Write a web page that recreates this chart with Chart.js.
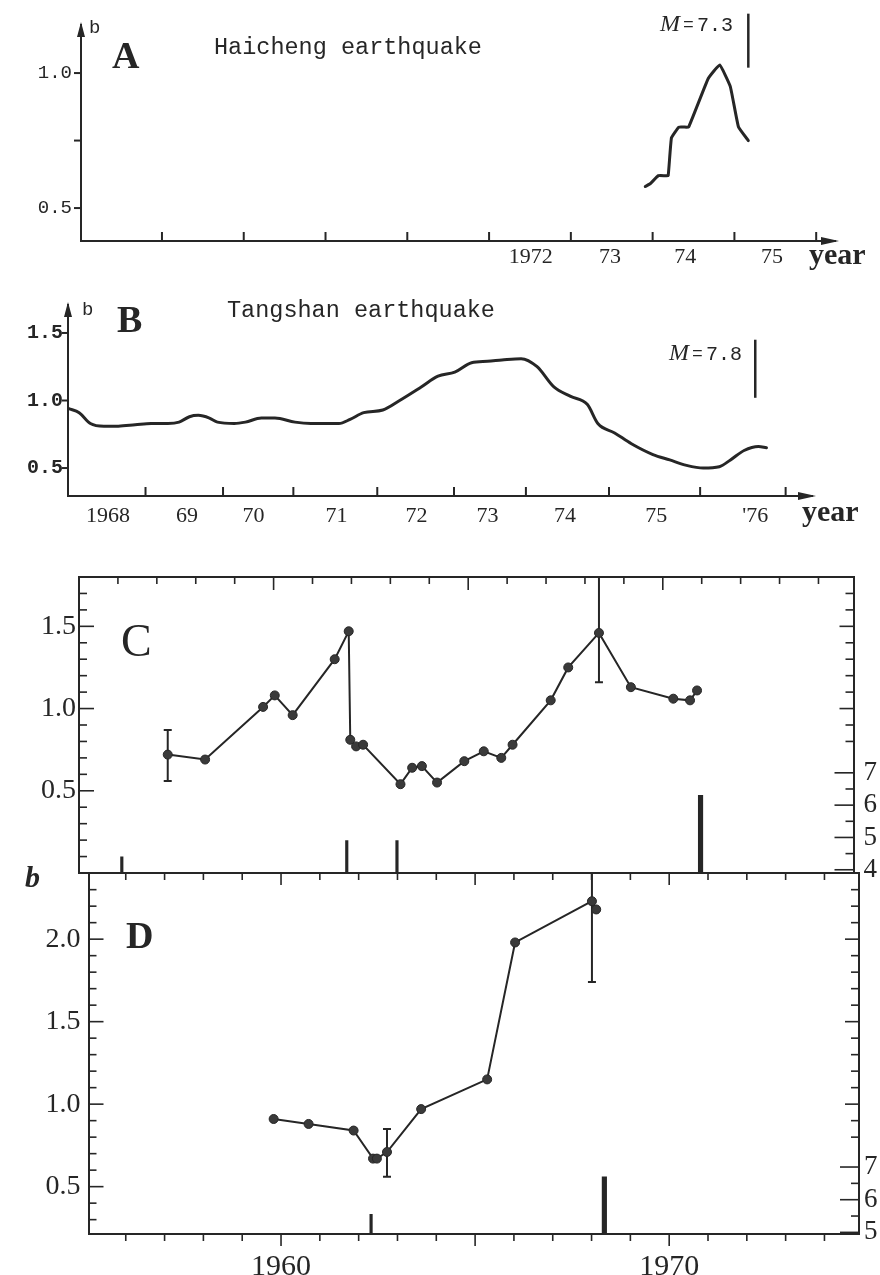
<!DOCTYPE html>
<html>
<head>
<meta charset="utf-8">
<script src="https://cdn.jsdelivr.net/npm/chart.js@4.4.0/dist/chart.umd.min.js"></script>
<style>
  html, body { margin: 0; padding: 0; background: #fff; }
  body { position: relative; width: 880px; height: 1275px; overflow: hidden; }
  canvas { position: absolute; left: 0; }
</style>
</head>
<body>
<canvas id="chartA" width="880" height="280" style="top:0px"></canvas>
<canvas id="chartB" width="880" height="260" style="top:280px"></canvas>
<canvas id="chartC" width="880" height="340" style="top:560px"></canvas>
<canvas id="chartD" width="880" height="415" style="top:860px"></canvas>
<script>
// ---- A: Haicheng earthquake ----
const aYears = [1973.91, 1973.97, 1974.07, 1974.15, 1974.19, 1974.23, 1974.32, 1974.38, 1974.44, 1974.68, 1974.82, 1974.95, 1975.05, 1975.17];
const aB = [0.58, 0.59, 0.62, 0.62, 0.62, 0.76, 0.80, 0.80, 0.80, 0.98, 1.03, 0.95, 0.80, 0.75];
const aTickYears = [1968, 1969, 1970, 1971, 1972, 1973, 1974, 1975, 1976];
const aLabelYears = [1972.51, 1973.48, 1974.40, 1975.46];
const aLabels = ['1972', '73', '74', '75'];
const aQuakeYear = 1975.17;
const aQuakeB = [1.02, 1.22];

// ---- B: Tangshan earthquake ----
const bYears = [1968.14, 1968.27, 1968.41, 1968.58, 1968.76, 1968.97, 1969.17, 1969.38, 1969.52, 1969.65, 1969.76, 1969.90,
  1970.00, 1970.21, 1970.35, 1970.55, 1970.72, 1970.97, 1971.17, 1971.38, 1971.52, 1971.66, 1971.83, 1972.07,
  1972.28, 1972.55, 1972.76, 1972.97, 1973.18, 1973.38, 1973.56, 1973.80, 1974.00, 1974.21, 1974.42, 1974.63,
  1974.76, 1974.97, 1975.18, 1975.45, 1975.66, 1975.87, 1976.08, 1976.28, 1976.42, 1976.59, 1976.77, 1976.87];
const bB = [0.94, 0.91, 0.83, 0.81, 0.81, 0.82, 0.83, 0.83, 0.84, 0.88, 0.89, 0.87,
  0.84, 0.83, 0.84, 0.87, 0.87, 0.84, 0.83, 0.83, 0.83, 0.86, 0.91, 0.93,
  1.00, 1.10, 1.18, 1.21, 1.28, 1.29, 1.30, 1.31, 1.25, 1.10, 1.03, 0.97,
  0.83, 0.76, 0.68, 0.60, 0.56, 0.52, 0.50, 0.51, 0.56, 0.63, 0.66, 0.65];
// hand drawn year ticks and labels
const bTickYears = [1969.10, 1970.07, 1970.95, 1972.00, 1972.96, 1973.86, 1974.90, 1976.04, 1977.11];
const bLabelYears = [1968.63, 1969.62, 1970.45, 1971.49, 1972.49, 1973.38, 1974.35, 1975.49, 1976.73];
const bLabels = ['1968', '69', '70', '71', '72', '73', '74', '75', "'76"];
const bQuakeYear = 1976.73;
const bQuakeB = [1.02, 1.45];

// ---- C ----
const cYears = [1957.28, 1958.24, 1959.73, 1960.03, 1960.49, 1961.57, 1961.93, 1961.97, 1962.12, 1962.30, 1963.26, 1963.56,
  1963.81, 1964.20, 1964.90, 1965.40, 1965.85, 1966.14, 1967.12, 1967.57, 1968.36, 1969.18, 1970.27, 1970.70, 1970.88];
const cB = [0.72, 0.69, 1.01, 1.08, 0.96, 1.30, 1.47, 0.81, 0.77, 0.78, 0.54, 0.64,
  0.65, 0.55, 0.68, 0.74, 0.70, 0.78, 1.05, 1.25, 1.46, 1.13, 1.06, 1.05, 1.11];
const cErrYears = [1957.28, 1968.36];
const cErrLow = [0.56, 1.16];
const cErrHigh = [0.87, 1.80];
const cEventYears = [1956.10, 1961.88, 1963.17, 1970.97];
const cEventMags = [4.4, 4.9, 4.9, 6.3];

// ---- D ----
const dYears = [1959.81, 1960.71, 1961.87, 1962.37, 1962.47, 1962.73, 1963.61, 1965.31, 1966.03, 1968.01, 1968.12];
const dB = [0.91, 0.88, 0.84, 0.67, 0.67, 0.71, 0.97, 1.15, 1.98, 2.23, 2.18];
const dErrYears = [1962.73, 1968.01];
const dErrLow = [0.56, 1.74];
const dErrHigh = [0.85, 2.41];
const dEventYears = [1962.32, 1968.33];
const dEventMags = [5.55, 6.7];

const INK = '#262626';
const MONO = '"Liberation Mono", monospace';
const SERIF = '"Liberation Serif", "Times New Roman", serif';
Chart.defaults.font.family = SERIF;
Chart.defaults.color = INK;

function fixedSize(size) {
  return function (scale) {
    if (scale.isHorizontal()) scale.height = size; else scale.width = size;
    scale.paddingLeft = scale.paddingRight = scale.paddingTop = scale.paddingBottom = 0;
  };
}
function setTicks(values) {
  return function (scale) { scale.ticks = values.map(v => ({ value: v })); };
}
function steps(from, to, step) {
  const out = [];
  for (let v = from; v <= to + 1e-9; v += step) out.push(Math.round(v * 100) / 100);
  return out;
}
const isHalf = v => Math.abs(v * 2 - Math.round(v * 2)) < 1e-6;
const isInt = v => Math.abs(v - Math.round(v)) < 1e-6;
const isFive = v => Math.abs(v / 5 - Math.round(v / 5)) < 1e-6;

// tick marks on an axis line; dir 1 points into the plot, -1 points outward
function tickMarks(specs) {
  return {
    id: 'tickMarks',
    afterDraw(chart) {
      const ctx = chart.ctx, area = chart.chartArea;
      ctx.save();
      ctx.strokeStyle = INK;
      specs.forEach(s => {
        const scale = chart.scales[s.scale];
        ctx.lineWidth = s.width || 1.6;
        s.values.forEach(v => {
          const p = scale.getPixelForValue(v);
          const len = s.major && s.major(v) ? s.majorLen : s.len;
          ctx.beginPath();
          if (s.side === 'left' || s.side === 'right') {
            const x0 = s.side === 'left' ? area.left : area.right;
            const sign = (s.side === 'left' ? 1 : -1) * s.dir;
            ctx.moveTo(x0, p); ctx.lineTo(x0 + sign * len, p);
          } else {
            const y0 = s.side === 'top' ? area.top : area.bottom;
            const sign = (s.side === 'top' ? 1 : -1) * s.dir;
            ctx.moveTo(p, y0); ctx.lineTo(p, y0 + sign * len);
          }
          ctx.stroke();
        });
      });
      ctx.restore();
    }
  };
}

function texts(items) {
  return {
    id: 'texts',
    afterDraw(chart) {
      const ctx = chart.ctx;
      ctx.save();
      ctx.fillStyle = INK;
      ctx.textBaseline = 'alphabetic';
      items.forEach(t => {
        ctx.font = t.font;
        ctx.textAlign = t.align || 'left';
        ctx.fillText(t.text, t.x, t.y);
      });
      ctx.restore();
    }
  };
}

const axisArrows = {
  id: 'axisArrows',
  afterDraw(chart) {
    const ctx = chart.ctx, a = chart.chartArea;
    ctx.save();
    ctx.fillStyle = INK;
    ctx.beginPath();
    ctx.moveTo(a.left, a.top - 3); ctx.lineTo(a.left - 4, a.top + 12); ctx.lineTo(a.left + 4, a.top + 12);
    ctx.closePath(); ctx.fill();
    ctx.beginPath();
    ctx.moveTo(a.right + 4, a.bottom); ctx.lineTo(a.right - 14, a.bottom - 4); ctx.lineTo(a.right - 14, a.bottom + 4);
    ctx.closePath(); ctx.fill();
    ctx.restore();
  }
};

function points(xs, ys) { return xs.map((x, i) => ({ x, y: ys[i] })); }

function errorBars(years, lo, hi) {
  return years.map((x, i) => ({
    data: [{ x, y: lo[i] }, { x, y: hi[i] }],
    borderColor: INK, borderWidth: 2,
    pointStyle: 'line', pointRadius: 4, pointBorderColor: INK, pointBorderWidth: 2
  }));
}

function eventBars(years, mags, base) {
  const pick = keep => points(years, mags).filter(p => keep(p.y));
  const bar = { type: 'bar', yAxisID: 'ym', base: base, grouped: false, backgroundColor: INK, borderWidth: 0 };
  return [
    Object.assign({}, bar, { barThickness: 2.5, data: pick(m => m < 6) }),
    Object.assign({}, bar, { barThickness: 4.5, data: pick(m => m >= 6) })
  ];
}

const noPlugins = { legend: { display: false }, tooltip: { enabled: false } };
const axisBorder = { display: true, color: INK, width: 2 };
const noGrid = { display: false, drawTicks: false };

// ---------- chart A ----------
new Chart(document.getElementById('chartA'), {
  type: 'line',
  data: {
    datasets: [
      { data: points(aYears, aB), borderColor: INK, borderWidth: 3, pointRadius: 0, tension: 0.1,
        borderJoinStyle: 'round', borderCapStyle: 'round' },
      { data: [{ x: aQuakeYear, y: aQuakeB[0] }, { x: aQuakeYear, y: aQuakeB[1] }],
        borderColor: INK, borderWidth: 2.5, pointRadius: 0, clip: false }
    ]
  },
  options: {
    responsive: false, animation: false,
    layout: { padding: { top: 25, right: 45, left: 0, bottom: 0 } },
    plugins: noPlugins,
    scales: {
      x: {
        type: 'linear', min: 1967.01, max: 1976.23, offset: false,
        grid: noGrid, border: axisBorder,
        ticks: { autoSkip: false, maxRotation: 0, padding: 3, font: { family: SERIF, size: 22 },
          callback: (v, i) => aLabels[i] },
        afterBuildTicks: setTicks(aLabelYears), afterFit: fixedSize(39)
      },
      y: {
        type: 'linear', min: 0.378, max: 1.178,
        grid: noGrid, border: axisBorder,
        ticks: { padding: 9, font: { family: MONO, size: 19 },
          callback: v => (Math.abs(v - 0.75) < 1e-6 ? '' : v.toFixed(1)) },
        afterBuildTicks: setTicks([0.5, 0.75, 1.0]), afterFit: fixedSize(81)
      }
    }
  },
  plugins: [
    axisArrows,
    tickMarks([
      { scale: 'x', side: 'bottom', dir: 1, values: aTickYears, len: 9, width: 2 },
      { scale: 'y', side: 'left', dir: -1, values: [0.5, 0.75, 1.0], len: 7, width: 2 }
    ]),
    texts([
      { text: 'b', x: 89, y: 33, font: '19px ' + MONO },
      { text: 'A', x: 112, y: 68, font: 'bold 38px ' + SERIF },
      { text: 'Haicheng earthquake', x: 214, y: 54, font: '23.5px ' + MONO },
      { text: 'M', x: 660, y: 31, font: 'italic 24px ' + SERIF },
      { text: '=', x: 683, y: 30, font: '18px ' + MONO },
      { text: '7.3', x: 697, y: 31, font: '20px ' + MONO },
      { text: 'year', x: 809, y: 264, font: 'bold 30px ' + SERIF }
    ])
  ]
});

// ---------- chart B ----------
new Chart(document.getElementById('chartB'), {
  type: 'line',
  data: {
    datasets: [
      { data: points(bYears, bB), borderColor: INK, borderWidth: 3, pointRadius: 0,
        cubicInterpolationMode: 'monotone', borderJoinStyle: 'round', borderCapStyle: 'round' },
      { data: [{ x: bQuakeYear, y: bQuakeB[0] }, { x: bQuakeYear, y: bQuakeB[1] }],
        borderColor: INK, borderWidth: 2.5, pointRadius: 0, clip: false }
    ]
  },
  options: {
    responsive: false, animation: false,
    layout: { padding: { top: 25, right: 68, left: 0, bottom: 0 } },
    plugins: noPlugins,
    scales: {
      x: {
        type: 'linear', min: 1968.13, max: 1977.44, offset: false,
        grid: noGrid, border: axisBorder,
        ticks: { autoSkip: false, maxRotation: 0, padding: 7, font: { family: SERIF, size: 22 },
          callback: (v, i) => bLabels[i] },
        afterBuildTicks: setTicks(bLabelYears), afterFit: fixedSize(44)
      },
      y: {
        type: 'linear', min: 0.293, max: 1.707,
        grid: noGrid, border: axisBorder,
        ticks: { padding: 5, font: { family: MONO, size: 20, weight: 'bold' }, callback: v => v.toFixed(1) },
        afterBuildTicks: setTicks([0.5, 1.0, 1.5]), afterFit: fixedSize(68)
      }
    }
  },
  plugins: [
    axisArrows,
    tickMarks([
      { scale: 'x', side: 'bottom', dir: 1, values: bTickYears, len: 9, width: 2 },
      { scale: 'y', side: 'left', dir: -1, values: [0.5, 1.0, 1.5], len: 6, width: 2 }
    ]),
    texts([
      { text: 'b', x: 82, y: 35, font: '19px ' + MONO },
      { text: 'B', x: 117, y: 52, font: 'bold 38px ' + SERIF },
      { text: 'Tangshan earthquake', x: 227, y: 37, font: '23.5px ' + MONO },
      { text: 'M', x: 669, y: 80, font: 'italic 24px ' + SERIF },
      { text: '=', x: 692, y: 79, font: '18px ' + MONO },
      { text: '7.8', x: 706, y: 80, font: '20px ' + MONO },
      { text: 'year', x: 802, y: 241, font: 'bold 30px ' + SERIF }
    ])
  ]
});

// ---------- chart C ----------
new Chart(document.getElementById('chartC'), {
  type: 'line',
  data: {
    datasets: [
      { data: points(cYears, cB), borderColor: INK, borderWidth: 2, tension: 0,
        pointRadius: 4.5, pointBackgroundColor: '#3a3a3a', pointBorderColor: INK, pointBorderWidth: 1 }
    ].concat(errorBars(cErrYears, cErrLow, cErrHigh), eventBars(cEventYears, cEventMags, 3.9))
  },
  options: {
    responsive: false, animation: false,
    layout: { padding: 0 },
    plugins: noPlugins,
    scales: {
      x: { type: 'linear', position: 'bottom', min: 1955.0, max: 1974.9, offset: false,
        grid: noGrid, border: axisBorder, ticks: { display: false }, afterFit: fixedSize(27) },
      xt: { type: 'linear', position: 'top', min: 1955.0, max: 1974.9, offset: false,
        grid: noGrid, border: axisBorder, ticks: { display: false }, afterFit: fixedSize(17) },
      y: { type: 'linear', position: 'left', min: 0, max: 1.8,
        grid: noGrid, border: axisBorder,
        ticks: { padding: 3, font: { family: SERIF, size: 28 }, callback: v => v.toFixed(1) },
        afterBuildTicks: setTicks([0.5, 1.0, 1.5]), afterFit: fixedSize(79) },
      ym: { type: 'linear', position: 'right', min: 3.9, max: 13.06,
        grid: noGrid, border: axisBorder,
        ticks: { padding: 10, font: { family: SERIF, size: 27 }, callback: v => String(v) },
        afterBuildTicks: setTicks([4, 5, 6, 7]), afterFit: fixedSize(26.5) }
    }
  },
  plugins: [
    tickMarks([
      { scale: 'xt', side: 'top', dir: 1, values: steps(1956, 1974, 1), len: 7, majorLen: 13, major: isFive },
      { scale: 'y', side: 'left', dir: 1, values: steps(0.1, 1.7, 0.1), len: 8, majorLen: 15, major: isHalf },
      { scale: 'y', side: 'right', dir: 1, values: steps(0.8, 1.7, 0.1), len: 8, majorLen: 14, major: isHalf },
      { scale: 'ym', side: 'right', dir: 1, values: steps(4, 7, 0.5), len: 8, majorLen: 19, major: isInt }
    ]),
    texts([
      { text: 'C', x: 121, y: 96, font: '46px ' + SERIF }
    ])
  ]
});

// ---------- chart D ----------
new Chart(document.getElementById('chartD'), {
  type: 'line',
  data: {
    datasets: [
      { data: points(dYears, dB), borderColor: INK, borderWidth: 2, tension: 0,
        pointRadius: 4.5, pointBackgroundColor: '#3a3a3a', pointBorderColor: INK, pointBorderWidth: 1 }
    ].concat(errorBars(dErrYears, dErrLow, dErrHigh), eventBars(dEventYears, dEventMags, 4.95))
  },
  options: {
    responsive: false, animation: false,
    layout: { padding: 0 },
    plugins: noPlugins,
    scales: {
      x: { type: 'linear', position: 'bottom', min: 1955.04, max: 1974.89, offset: false,
        grid: noGrid, border: axisBorder,
        ticks: { autoSkip: false, maxRotation: 0, padding: 15, font: { family: SERIF, size: 30 }, callback: v => String(v) },
        afterBuildTicks: setTicks([1960, 1970]), afterFit: fixedSize(41) },
      xt: { type: 'linear', position: 'top', min: 1955.04, max: 1974.89, offset: false,
        grid: noGrid, border: axisBorder, ticks: { display: false }, afterFit: fixedSize(13) },
      y: { type: 'linear', position: 'left', min: 0.213, max: 2.401,
        grid: noGrid, border: axisBorder,
        ticks: { padding: 8, font: { family: SERIF, size: 28 }, callback: v => v.toFixed(1) },
        afterBuildTicks: setTicks([0.5, 1.0, 1.5, 2.0]), afterFit: fixedSize(88.5) },
      ym: { type: 'linear', position: 'right', min: 4.95, max: 16.0,
        grid: noGrid, border: axisBorder,
        ticks: { padding: 5, font: { family: SERIF, size: 27 }, callback: v => String(v) },
        afterBuildTicks: setTicks([5, 6, 7]), afterFit: fixedSize(21) }
    }
  },
  plugins: [
    tickMarks([
      { scale: 'xt', side: 'top', dir: 1, values: steps(1956, 1974, 1), len: 7, majorLen: 12, major: isFive },
      { scale: 'x', side: 'bottom', dir: -1, values: steps(1956, 1974, 1), len: 7, majorLen: 12, major: isFive },
      { scale: 'y', side: 'left', dir: 1, values: steps(0.3, 2.3, 0.1), len: 8, majorLen: 15, major: isHalf },
      { scale: 'y', side: 'right', dir: 1, values: steps(0.8, 2.3, 0.1), len: 8, majorLen: 14, major: isHalf },
      { scale: 'ym', side: 'right', dir: 1, values: steps(5, 7, 0.5), len: 8, majorLen: 19, major: isInt }
    ]),
    texts([
      { text: 'b', x: 25, y: 27, font: 'italic bold 30px ' + SERIF },
      { text: 'D', x: 126, y: 88, font: 'bold 38px ' + SERIF }
    ])
  ]
});
</script>
</body>
</html>
